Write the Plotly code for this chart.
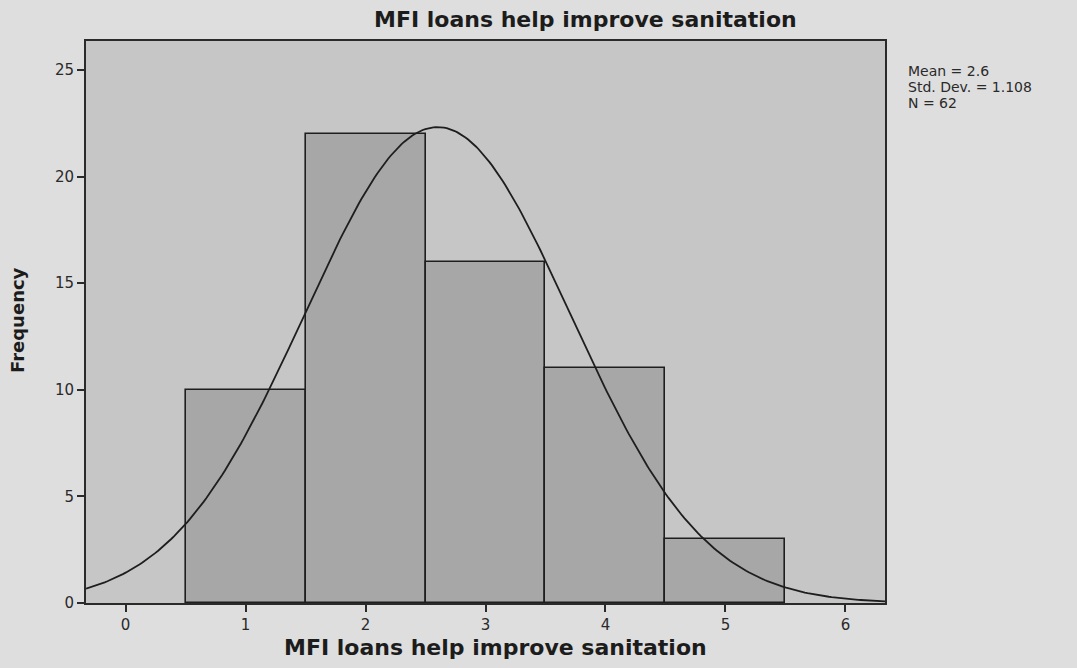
import numpy as np
import plotly.graph_objects as go

# Response scores and their frequencies
scores = [1, 2, 3, 4, 5]
frequencies = [10, 22, 16, 11, 3]

# Summary statistics shown beside the chart
mean_value = 2.6
std_dev = 1.108
n_total = 62

x_ticks = [0, 1, 2, 3, 4, 5, 6]
y_ticks = [0, 5, 10, 15, 20, 25]

title_text = "MFI loans help improve sanitation"

# Fitted normal curve scaled to counts (bin width 1)
xs = np.linspace(-0.33, 6.33, 300)
ys = n_total * np.exp(-0.5 * ((xs - mean_value) / std_dev) ** 2) / (std_dev * np.sqrt(2 * np.pi))

FONT = "DejaVu Sans, Verdana, Arial"
INK = "#1c1c1c"

fig = go.Figure()
fig.add_trace(go.Bar(
    x=scores, y=frequencies, width=1.0,
    marker=dict(color="#a7a7a7", line=dict(color="#1e1e1e", width=1.6)),
    hoverinfo="x+y",
))
fig.add_trace(go.Scatter(
    x=xs, y=ys, mode="lines",
    line=dict(color="#1e1e1e", width=1.8), hoverinfo="skip",
))

plot_l, plot_r, plot_t, plot_b = 86, 192, 41, 65
plot_w = 1077 - plot_l - plot_r
plot_h = 668 - plot_t - plot_b

fig.update_layout(
    width=1077, height=668,
    margin=dict(l=plot_l, r=plot_r, t=plot_t, b=plot_b),
    paper_bgcolor="#dedede",
    plot_bgcolor="#c6c6c6",
    showlegend=False,
    bargap=0,
    font=dict(family=FONT, color=INK),
)
fig.update_xaxes(
    range=[-0.33, 6.33], tickvals=x_ticks, ticks="outside", ticklen=7, tickwidth=2,
    tickcolor="#2a2a2a", showgrid=False, zeroline=False,
    showline=True, linecolor="#2a2a2a", linewidth=2, mirror=True,
    tickfont=dict(family=FONT, size=15, color="#2a2a2a"),
)
fig.update_yaxes(
    range=[0, 26.36], tickvals=y_ticks, ticks="outside", ticklen=7, tickwidth=2,
    tickcolor="#2a2a2a", showgrid=False, zeroline=False,
    showline=True, linecolor="#2a2a2a", linewidth=2, mirror=True,
    tickfont=dict(family=FONT, size=15, color="#2a2a2a"),
)

def px_x(px):
    return (px - plot_l) / plot_w

def px_y(py):
    return 1 - (py - plot_t) / plot_h

# Chart title
fig.add_annotation(xref="paper", yref="paper", x=px_x(585), y=px_y(19),
                   xanchor="center", yanchor="middle", showarrow=False,
                   text=f"<b>{title_text}</b>", font=dict(family=FONT, size=22, color=INK))
# X axis title
fig.add_annotation(xref="paper", yref="paper", x=px_x(495), y=px_y(647),
                   xanchor="center", yanchor="middle", showarrow=False,
                   text=f"<b>{title_text}</b>", font=dict(family=FONT, size=22, color=INK))
# Y axis title
fig.add_annotation(xref="paper", yref="paper", x=px_x(17), y=px_y(320),
                   xanchor="center", yanchor="middle", showarrow=False, textangle=-90,
                   text="<b>Frequency</b>", font=dict(family=FONT, size=18, color=INK))

# Statistics block
stats_lines = [f"Mean = {mean_value}", f"Std. Dev. = {std_dev}", f"N = {n_total}"]
for i, line in enumerate(stats_lines):
    fig.add_annotation(xref="paper", yref="paper", x=px_x(906), y=px_y(71 + 16 * i),
                       xanchor="left", yanchor="middle", showarrow=False,
                       text=line, font=dict(family=FONT, size=14, color="#2a2a2a"))

fig.write_html("out.html")
